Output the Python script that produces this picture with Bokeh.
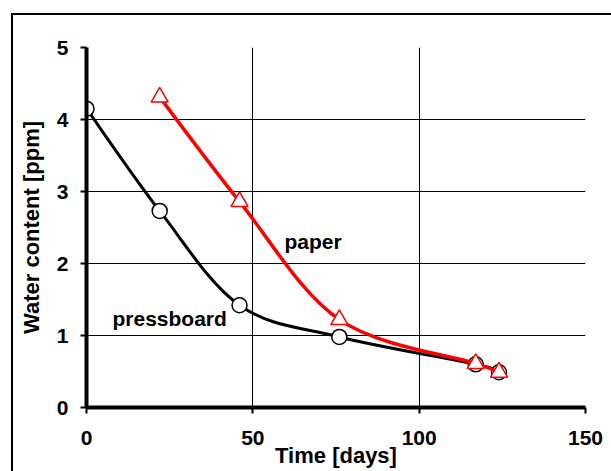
import numpy as np
from bokeh.plotting import figure
from bokeh.models import Label, Range1d, FixedTicker, Grid
from bokeh.embed import file_html
from bokeh.resources import INLINE

# ---- data ----
pb_days = [0, 22, 46, 76, 117, 124]
pb_water = [4.15, 2.73, 1.42, 0.98, 0.60, 0.49]
paper_days = [22, 46, 76, 117, 124]
paper_water = [4.31, 2.86, 1.22, 0.61, 0.49]
x_ticks = [0, 50, 100, 150]
y_ticks = [0, 1, 2, 3, 4, 5]

FONT = "Liberation Sans"


def smooth_segments(xs, ys):
    """Excel-like smoothed line: cubic Bezier segments (Catmull-Rom control points)."""
    x = np.asarray(xs, float)
    y = np.asarray(ys, float)
    n = len(x)
    xp = np.concatenate([[x[0]], x, [x[-1]]])
    yp = np.concatenate([[y[0]], y, [y[-1]]])
    seg = dict(x0=[], y0=[], x1=[], y1=[], cx0=[], cy0=[], cx1=[], cy1=[])
    for i in range(n - 1):
        j = i + 1
        seg["x0"].append(x[i]); seg["y0"].append(y[i])
        seg["x1"].append(x[i + 1]); seg["y1"].append(y[i + 1])
        seg["cx0"].append(x[i] + (xp[j + 1] - xp[j - 1]) / 6)
        seg["cy0"].append(y[i] + (yp[j + 1] - yp[j - 1]) / 6)
        seg["cx1"].append(x[i + 1] - (xp[j + 2] - xp[j]) / 6)
        seg["cy1"].append(y[i + 1] - (yp[j + 2] - yp[j]) / 6)
    return seg


p = figure(width=611, height=471, output_backend="svg", toolbar_location=None,
           x_range=Range1d(0, 150), y_range=Range1d(0, 5),
           min_border_left=86, min_border_right=26, min_border_top=47, min_border_bottom=64)

p.background_fill_color = "white"
p.border_fill_color = None
p.outline_line_color = None
# outer chart-area frame (left and top edges visible)
p.styles = {"box-shadow": "inset 11px 13px 0 0 white, inset 13px 15px 0 0 black",
            "background-color": "white"}

# grid
inner_x = [t for t in x_ticks if 0 < t < x_ticks[-1]]
inner_y = [t for t in y_ticks if 0 < t < y_ticks[-1]]
p.xgrid.ticker = FixedTicker(ticks=inner_x)
p.ygrid.ticker = FixedTicker(ticks=inner_y)
p.xgrid.grid_line_color = "black"
p.ygrid.grid_line_color = "black"
p.xgrid.grid_line_width = 1
p.ygrid.grid_line_width = 1
p.add_layout(Grid(dimension=0, ticker=FixedTicker(ticks=[x_ticks[-1]]),
                  grid_line_color="#8c8c8c", grid_line_width=2))
p.add_layout(Grid(dimension=1, ticker=FixedTicker(ticks=[y_ticks[-1]]),
                  grid_line_color="#8c8c8c", grid_line_width=2))

for ax, ticks in ((p.xaxis, x_ticks), (p.yaxis, y_ticks)):
    ax.ticker = FixedTicker(ticks=ticks)
    ax.axis_line_color = "black"
    ax.axis_line_width = 4
    ax.major_tick_line_color = "black"
    ax.major_tick_line_width = 2
    ax.major_tick_out = 6
    ax.major_tick_in = 0
    ax.minor_tick_line_color = None
    ax.major_label_text_font = FONT
    ax.major_label_text_font_style = "bold"
    ax.major_label_text_font_size = "21px"
    ax.major_label_text_color = "black"
    ax.axis_label_text_font = FONT
    ax.axis_label_text_font_style = "bold"
    ax.axis_label_text_font_size = "22px"
    ax.axis_label_text_color = "black"

p.xaxis.axis_label = "Time [days]"
p.yaxis.axis_label = "Water content [ppm]"
p.xaxis.major_label_standoff = 17
p.xaxis.axis_label_standoff = -5
p.yaxis.major_label_standoff = 12
p.yaxis.axis_label_standoff = 10

# pressboard (black)
pb = smooth_segments(pb_days, pb_water)
p.bezier(x0=pb["x0"], y0=pb["y0"], x1=pb["x1"], y1=pb["y1"],
         cx0=pb["cx0"], cy0=pb["cy0"], cx1=pb["cx1"], cy1=pb["cy1"],
         line_color="black", line_width=3)
p.scatter(pb_days, pb_water, marker="circle", size=15, fill_color="white",
          line_color="black", line_width=1.5)

# paper (red)
pa = smooth_segments(paper_days, paper_water)
p.bezier(x0=pa["x0"], y0=pa["y0"], x1=pa["x1"], y1=pa["y1"],
         cx0=pa["cx0"], cy0=pa["cy0"], cx1=pa["cx1"], cy1=pa["cy1"],
         line_color="#ff0000", line_width=3.5)
p.scatter(paper_days, paper_water, marker="triangle", size=17, fill_color="white",
          line_color="#ff0000", line_width=1.5)

# annotations
p.add_layout(Label(x=59.5, y=2.31, text="paper", text_font=FONT, text_font_style="bold",
                   text_font_size="21px", text_color="black", text_baseline="alphabetic"))
p.add_layout(Label(x=7.8, y=1.24, text="pressboard", text_font=FONT, text_font_style="bold",
                   text_font_size="21px", text_color="black", text_baseline="alphabetic"))

open("out.html", "w").write(file_html(p, INLINE))
